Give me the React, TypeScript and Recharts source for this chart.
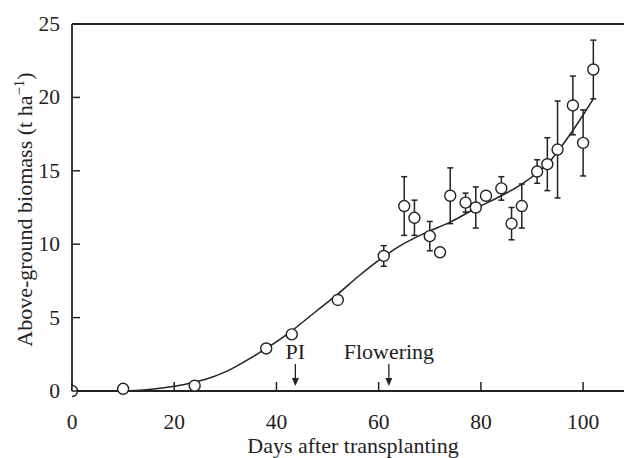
import {
  ComposedChart,
  Line,
  Scatter,
  ErrorBar,
  XAxis,
  YAxis,
  ReferenceLine,
  ReferenceDot,
} from "recharts";

// Observed biomass (t/ha) by days after transplanting, with error bars
const obsDays = [0, 10, 24, 38, 43, 52, 61, 65, 67, 70, 72, 74, 77, 79, 81, 84, 86, 88, 91, 93, 95, 98, 100, 102];
const obsBiomass = [0, 0.15, 0.36, 2.9, 3.86, 6.2, 9.2, 12.6, 11.8, 10.55, 9.45, 13.3, 12.83, 12.5, 13.3, 13.8, 11.4, 12.6, 14.95, 15.45, 16.45, 19.45, 16.9, 21.9];
const obsError = [0, 0, 0, 0.3, 0.2, 0, 0.7, 2.0, 1.2, 1.0, 0.2, 1.9, 0.65, 1.4, 0.25, 0.8, 1.1, 1.5, 0.8, 1.8, 3.3, 2.0, 2.25, 2.0];

// Fitted growth curve
const fitDays = [10, 14, 18, 22, 26, 30, 34, 38, 43, 48, 52, 56, 61, 64, 69, 74, 79, 84, 88, 91, 93, 95, 97, 100, 102];
const fitBiomass = [0, 0.07, 0.22, 0.45, 0.78, 1.3, 2.05, 2.9, 4.1, 5.5, 6.6, 7.8, 9.15, 9.85, 10.75, 11.5, 12.45, 13.3, 14.1, 14.85, 15.45, 16.3, 17.25, 18.8, 19.9];

const xTicks = [0, 20, 40, 60, 80, 100];
const yTicks = [0, 5, 10, 15, 20, 25];

// Growth-stage markers (arrow tip sits just above the axis)
const stageNames = ["PI", "Flowering"];
const stageDays = [43.7, 62];
const stageArrowTip = 0.34;

const INK = "#222";
const FONT = "'Liberation Serif', 'DejaVu Serif', serif";

const obsData = obsDays.map((d, i) => ({ day: d, biomass: obsBiomass[i], err: obsError[i] }));
const fitData = fitDays.map((d, i) => ({ day: d, fit: fitBiomass[i] }));

function SerifText({ x, y, anchor = "middle", rotate = 0, size = 22, children }: any) {
  return (
    <text
      transform={`translate(${x} ${y}) rotate(${rotate})`}
      textAnchor={anchor}
      fill={INK}
      style={{ fontFamily: FONT, fontSize: size }}
    >
      {children}
    </text>
  );
}

function XTick({ x, y, payload }: any) {
  return (
    <g>
      <line x1={x} y1={y} x2={x} y2={y - 9} stroke={INK} strokeWidth={1.5} />
      <SerifText x={x} y={y + 38} size={21.5}>{payload.value}</SerifText>
    </g>
  );
}

function YTick({ x, y, payload }: any) {
  return (
    <g>
      <line x1={x} y1={y} x2={x + 8} y2={y} stroke={INK} strokeWidth={1.5} />
      <SerifText x={x - 12} y={y + 7} anchor="end" size={21.5}>{payload.value}</SerifText>
    </g>
  );
}

function Marker({ cx, cy, label }: any) {
  return (
    <g>
      <line x1={cx} y1={cy - 22} x2={cx} y2={cy - 6} stroke={INK} strokeWidth={1.3} />
      <path d={`M${cx - 3.5},${cy - 8} L${cx + 3.5},${cy - 8} L${cx},${cy} Z`} fill={INK} />
      <SerifText x={cx} y={cy - 27}>{label}</SerifText>
    </g>
  );
}

function YLabel({ viewBox }: any) {
  const cy = viewBox.y + viewBox.height / 2 + 2;
  return (
    <SerifText x={32} y={cy} rotate={-90}>
      Above-ground biomass (t ha
      <tspan dy={-8} style={{ fontSize: 15 }}>
        −1
      </tspan>
      <tspan dy={8}>)</tspan>
    </SerifText>
  );
}

function XLabel({ viewBox }: any) {
  return (
    <SerifText x={viewBox.x + viewBox.width / 2 + 5} y={453}>
      Days after transplanting
    </SerifText>
  );
}

export default function App() {
  return (
    <div style={{ position: "absolute", left: 0, top: 0, width: 624, height: 458, background: "#fff" }}>
      <ComposedChart width={624} height={458} data={fitData} margin={{ top: 24, right: 0, bottom: 0, left: 0 }}>
        <XAxis
          dataKey="day"
          type="number"
          domain={[0, 108]}
          ticks={xTicks}
          allowDataOverflow
          height={67}
          axisLine={{ stroke: INK, strokeWidth: 2.2 }}
          tickLine={false}
          tickSize={0}
          tickMargin={0}
          tick={<XTick />}
          label={<XLabel />}
        />
        <YAxis
          type="number"
          domain={[0, 25]}
          ticks={yTicks}
          width={72}
          axisLine={{ stroke: INK, strokeWidth: 1.8 }}
          tickLine={false}
          tickSize={0}
          tickMargin={0}
          tick={<YTick />}
          label={<YLabel />}
        />
        <ReferenceLine y={25} stroke={INK} strokeWidth={2} />
        <Line
          dataKey="fit"
          type="monotone"
          stroke={INK}
          strokeWidth={1.5}
          dot={false}
          isAnimationActive={false}
        />
        <Scatter
          data={obsData}
          dataKey="biomass"
          isAnimationActive={false}
          shape={(p: any) => (
            <circle cx={p.cx} cy={p.cy} r={5.5} fill="#fff" stroke={INK} strokeWidth={1.4} />
          )}
        >
          <ErrorBar dataKey="err" direction="y" width={3} stroke={INK} strokeWidth={1.5} />
        </Scatter>
        {stageNames.map((name, i) => (
          <ReferenceDot
            key={name}
            x={stageDays[i]}
            y={stageArrowTip}
            r={0}
            shape={(p: any) => <Marker cx={p.cx} cy={p.cy} label={name} />}
          />
        ))}
      </ComposedChart>
    </div>
  );
}
